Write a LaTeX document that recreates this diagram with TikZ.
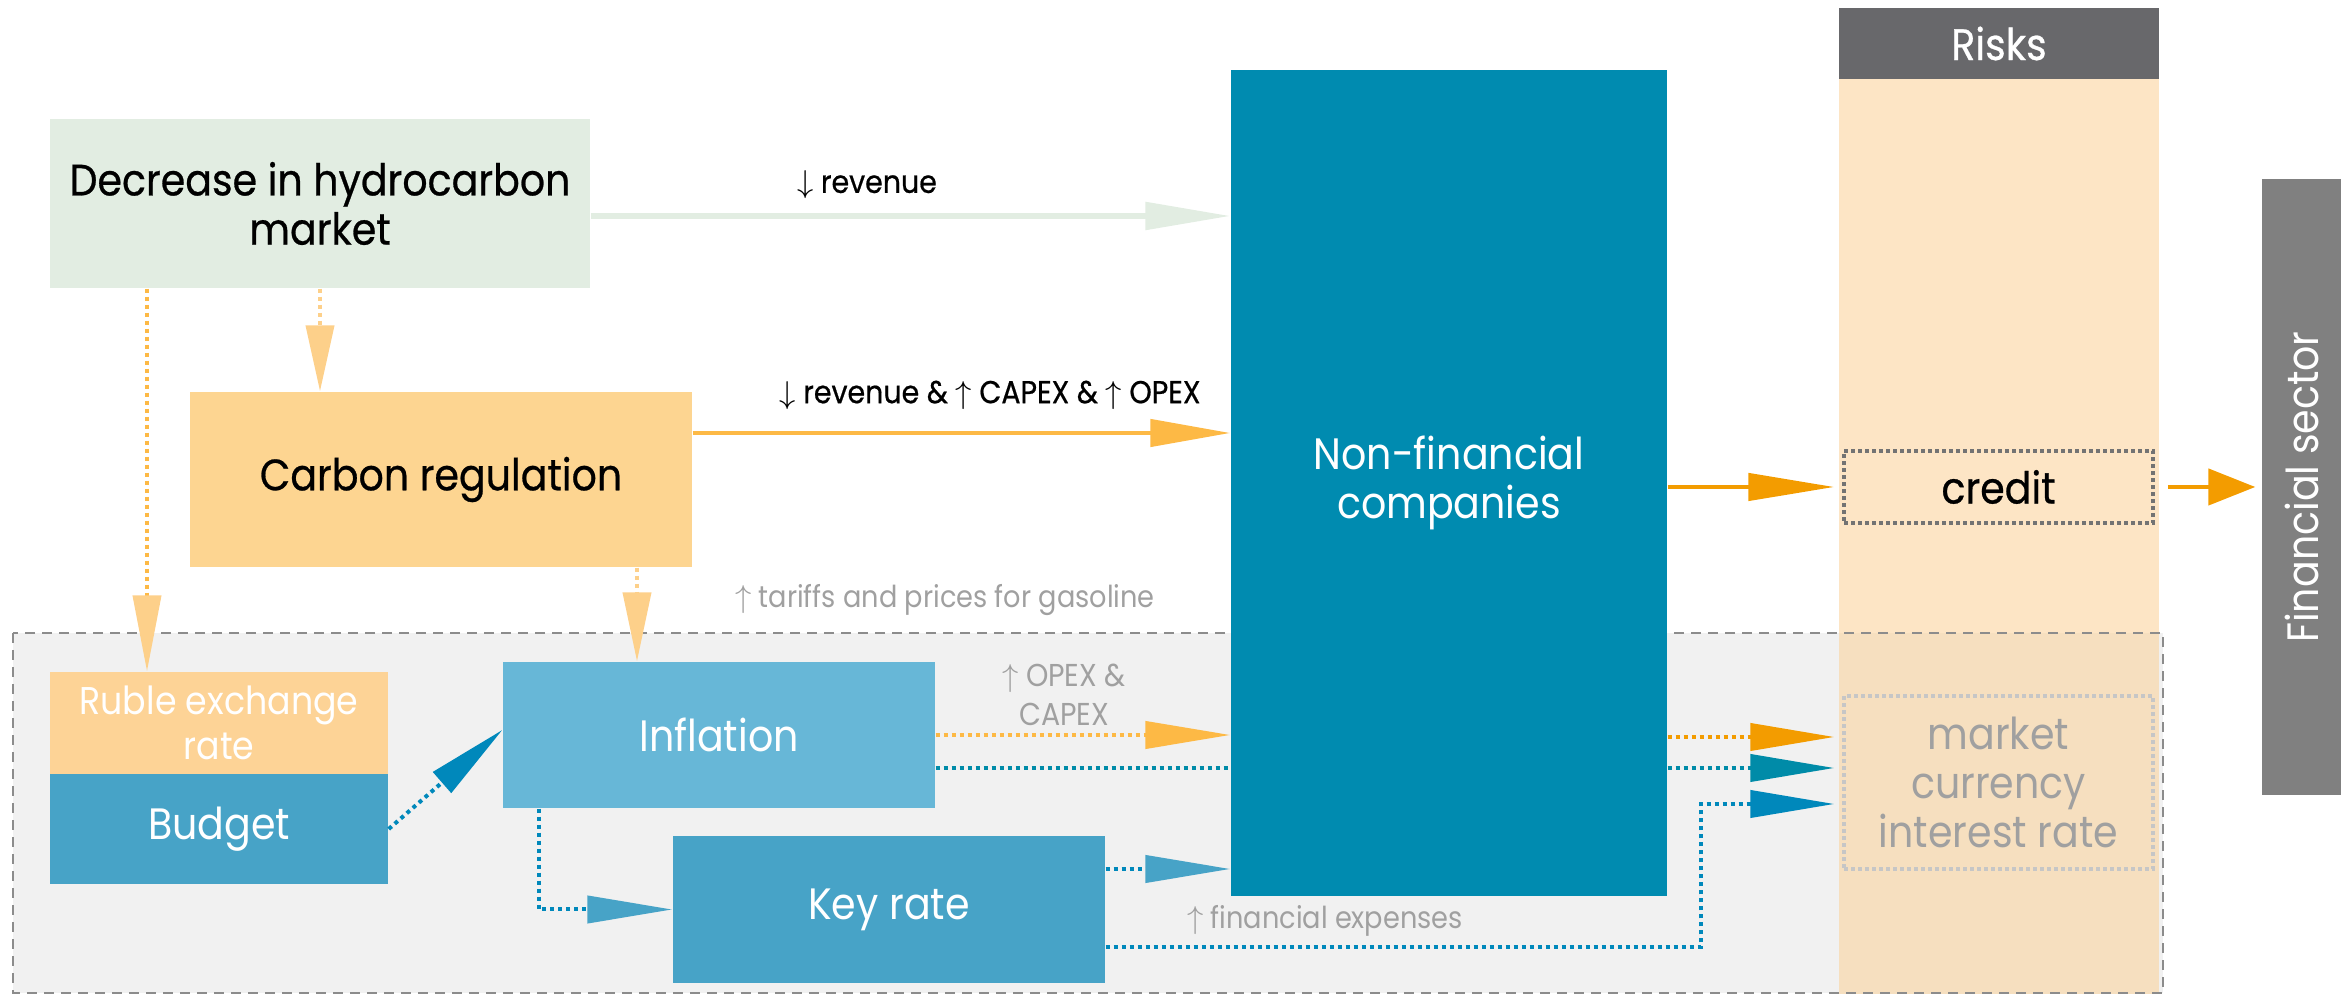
\documentclass[tikz,border=0pt]{standalone}
\usepackage{fontspec}
\setmainfont{Poppins}[FakeStretch=0.9]
\newfontfamily\heavyfont{Poppins}[FakeStretch=0.9, FakeBold=0.6]
\usetikzlibrary{arrows.meta,positioning}
\definecolor{marketgreen}{HTML}{E2EDE2}
\definecolor{carbonyellow}{HTML}{FDD591}
\definecolor{rubleorange}{HTML}{FDD396}
\definecolor{wireorange}{HTML}{FDB945}
\definecolor{tipyellow}{HTML}{FDD08A}
\definecolor{creditorange}{HTML}{F39C00}
\definecolor{companyteal}{HTML}{008BB0}
\definecolor{blockblue}{HTML}{47A3C7}
\definecolor{lightblue}{HTML}{67B7D7}
\definecolor{wireblue}{HTML}{0088BB}
\definecolor{wireteal}{HTML}{008BA8}
\definecolor{riskpeach}{HTML}{FDE5C5}
\definecolor{riskpeachdark}{HTML}{F6DFBF}
\definecolor{headergray}{HTML}{68686B}
\definecolor{sectorgray}{HTML}{808080}
\definecolor{zonegray}{HTML}{F1F1F1}
\definecolor{zoneborder}{HTML}{8C8C8C}
\definecolor{labelgray}{HTML}{A0A0A0}

\begin{document}
\begin{tikzpicture}[
  box/.style={inner sep=0pt, align=center, font=\fontsize{12.5}{14}\selectfont},
  lbl/.style={inner sep=0pt, align=center, font=\fontsize{9}{11}\selectfont},
  dotline/.style={line width=0.04cm, dash pattern=on 0.04cm off 0.04cm},
  longtip/.style={-{Triangle[length=#1, width=0.27cm]}},
  longtip/.default=0.85cm,
]
\useasboundingbox (0,0) rectangle (23.41,-9.94);

% risks column and the shaded macro zone
\fill[riskpeach] (18.39,-0.79) rectangle (21.59,-6.33);
\fill[zonegray] (0.13,-6.33) rectangle (21.63,-9.93);
\fill[riskpeachdark] (18.39,-6.33) rectangle (21.59,-9.94);
\draw[zoneborder, line width=0.025cm, dash pattern=on 0.1cm off 0.07cm] (0.13,-6.33) rectangle (21.63,-9.93);

% boxes
\node[box, fill=marketgreen, minimum width=5.40cm, minimum height=1.69cm] (hydro) at (3.20,-2.035) {\heavyfont Decrease in hydrocarbon\\\heavyfont market};
\node[box, fill=carbonyellow, minimum width=5.02cm, minimum height=1.75cm] (carbon) at (4.41,-4.795) {\heavyfont Carbon regulation};
\node[box, fill=companyteal, text=white, minimum width=4.36cm, minimum height=8.26cm] (companies) at (14.49,-4.83) {Non-financial\\companies};
\node[box, fill=headergray, text=white, minimum width=3.20cm, minimum height=0.71cm] (risks) at (19.99,-0.435) {\heavyfont Risks};
\node[box, draw=sectorgray!90!black, line width=0.035cm, dash pattern=on 0.035cm off 0.035cm, minimum width=3.09cm, minimum height=0.72cm] (credit) at (19.985,-4.87) {\heavyfont credit};
\node[box, text=labelgray, draw=gray!45, line width=0.035cm, dash pattern=on 0.035cm off 0.035cm, minimum width=3.09cm, minimum height=1.73cm] (marketrisk) at (19.985,-7.825) {market\\currency\\interest rate};
\node[box, fill=sectorgray, text=white, rotate=90, minimum width=6.16cm, minimum height=0.79cm] (finsector) at (23.015,-4.87) {Financial sector};
\node[box, font=\fontsize{11}{12.8}\selectfont, fill=rubleorange, text=white, minimum width=3.38cm, minimum height=1.02cm] (ruble) at (2.19,-7.23) {Ruble exchange\\rate};
\node[box, fill=blockblue, text=white, minimum width=3.38cm, minimum height=1.10cm] (budget) at (2.19,-8.29) {Budget};
\node[box, fill=lightblue, text=white, minimum width=4.32cm, minimum height=1.46cm] (inflation) at (7.19,-7.35) {Inflation};
\node[box, fill=blockblue, text=white, minimum width=4.32cm, minimum height=1.47cm] (keyrate) at (8.89,-9.095) {Key rate};

% top flows into companies
\draw[marketgreen, line width=0.055cm, longtip] (hydro.east |- 0,-2.16) -- (companies.west |- 0,-2.16);
\node[lbl] (revlbl) at (8.67,-1.85) {\heavyfont$\downarrow$ revenue};
\draw[wireorange, line width=0.045cm, longtip=0.8cm] (carbon.east |- 0,-4.33) -- (companies.west |- 0,-4.33);
\node[lbl] (costlbl) at (9.90,-3.95) {\heavyfont$\downarrow$ revenue \& $\uparrow$ CAPEX \& $\uparrow$ OPEX};

% dotted drops from the market and regulation
\draw[dotline, tipyellow, -{Triangle[length=0.66cm, width=0.28cm]}] (hydro.south) -- (carbon.north -| hydro.south);
\draw[dotline, wireorange, -{Triangle[length=0.76cm, width=0.28cm, color=tipyellow]}] (hydro.south -| 1.47,0) -- (ruble.north -| 1.47,0);
\draw[dotline, tipyellow, -{Triangle[length=0.69cm, width=0.28cm]}] (carbon.south -| 6.37,0) -- (inflation.north -| 6.37,0);
\node[lbl, font=\fontsize{8.6}{11}\selectfont, text=labelgray] (tarifflbl) at (9.45,-6.00) {$\uparrow$ tariffs and prices for gasoline};

% macro chain
\draw[dotline, wireblue, -{Triangle[length=0.8cm, width=0.27cm]}] (budget.east) -- ([yshift=0.05cm]inflation.west);
\draw[dotline, wireorange, longtip] (inflation.east) -- (companies.west |- inflation.east);
\node[lbl, text=labelgray] (opexlbl) at (10.64,-6.95) {$\uparrow$ OPEX \&\\CAPEX};
\draw[dotline, wireteal] (inflation.east |- 0,-7.68) -- (companies.west |- 0,-7.68);
\draw[dotline, wireblue, -{Triangle[length=0.85cm, width=0.27cm, color=blockblue]}] (inflation.south -| 5.39,0) |- (keyrate.west);
\draw[dotline, wireblue, -{Triangle[length=0.85cm, width=0.27cm, color=blockblue]}] (keyrate.east |- 0,-8.69) -- (companies.west |- 0,-8.69);

% into the risks
\draw[creditorange, line width=0.045cm, longtip=0.86cm, shorten >=0.08cm] (companies.east |- credit.west) -- (credit.west);
\draw[creditorange, line width=0.045cm, -{Triangle[length=0.47cm, width=0.36cm]}, shorten <=0.13cm, shorten >=0.06cm] (credit.east) -- (credit.east -| finsector.north);
\draw[dotline, creditorange, longtip=0.84cm, shorten >=0.08cm] (companies.east |- 0,-7.37) -- (marketrisk.west |- 0,-7.37);
\draw[dotline, wireteal, longtip=0.84cm, shorten >=0.08cm] (companies.east |- 0,-7.68) -- (marketrisk.west |- 0,-7.68);
\draw[dotline, wireblue, longtip=0.84cm, shorten >=0.08cm] (keyrate.east |- 0,-9.47) -| (17.01,-8.04) -- (marketrisk.west |- 0,-8.04);
\node[lbl, font=\fontsize{8.6}{11}\selectfont, text=labelgray] (explbl) at (13.25,-9.21) {$\uparrow$ financial expenses};
\end{tikzpicture}
\end{document}
